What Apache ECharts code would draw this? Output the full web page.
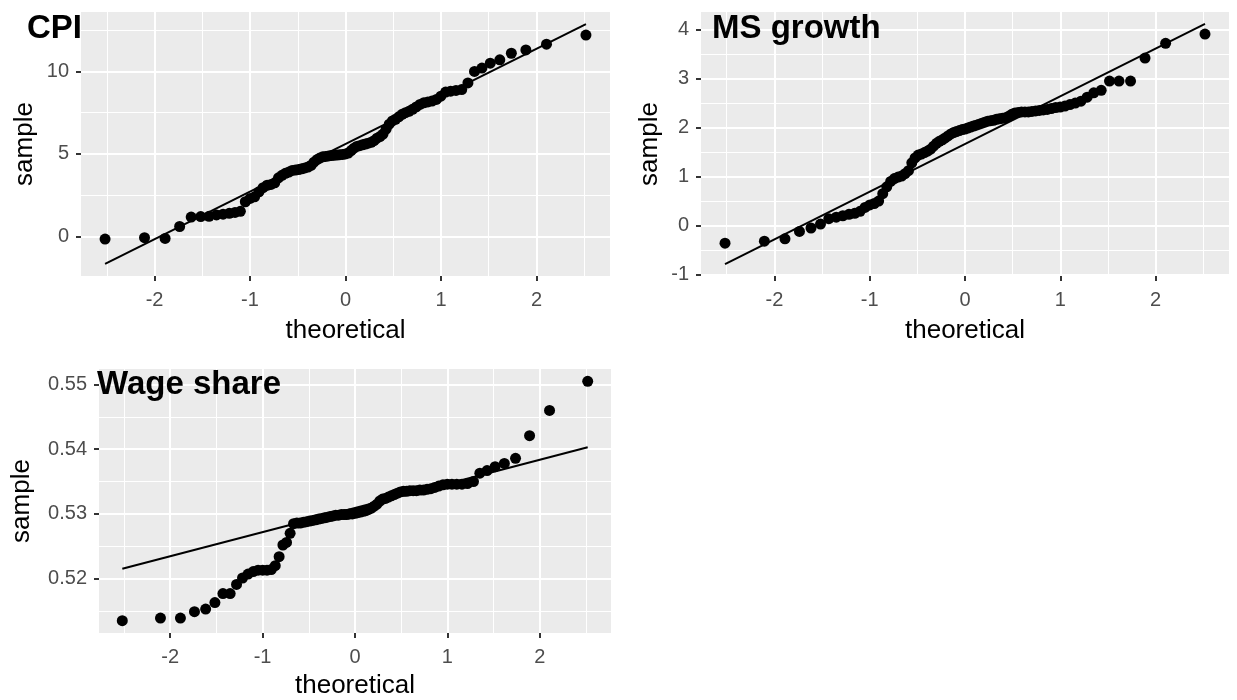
<!DOCTYPE html>
<html>
<head>
<meta charset="utf-8">
<script src="https://cdn.jsdelivr.net/npm/echarts@6/dist/echarts.min.js"></script>
<style>html,body{margin:0;padding:0;background:#fff}#c{width:1237px;height:700px}</style>
</head>
<body>
<div id="c"></div>
<script>
// theoretical normal quantiles (n = 85)
const theoretical = [-2.518,-2.105,-1.889,-1.737,-1.616,-1.516,-1.429,-1.351,-1.282,-1.217,-1.157,-1.101,-1.049,-0.999,-0.952,-0.906,-0.863,-0.821,-0.780,-0.741,-0.702,-0.665,-0.629,-0.593,-0.558,-0.524,-0.491,-0.458,-0.425,-0.393,-0.361,-0.330,-0.299,-0.269,-0.238,-0.208,-0.178,-0.148,-0.118,-0.089,-0.059,-0.029,0,0.029,0.059,0.089,0.118,0.148,0.178,0.208,0.238,0.269,0.299,0.330,0.361,0.393,0.425,0.458,0.491,0.524,0.558,0.593,0.629,0.665,0.702,0.741,0.780,0.821,0.863,0.906,0.952,0.999,1.049,1.101,1.157,1.217,1.282,1.351,1.429,1.516,1.616,1.737,1.889,2.105,2.518];

const cpiSample = [-0.16,-0.08,-0.12,0.6,1.17,1.2,1.22,1.3,1.35,1.4,1.45,1.52,2.1,2.3,2.4,2.7,2.95,3.1,3.15,3.25,3.55,3.7,3.82,3.9,4.0,4.02,4.05,4.1,4.15,4.2,4.3,4.5,4.65,4.75,4.82,4.85,4.88,4.9,4.92,4.93,4.95,4.97,5.0,5.05,5.2,5.35,5.45,5.5,5.55,5.6,5.65,5.7,5.8,5.95,6.05,6.2,6.5,6.8,7.0,7.1,7.25,7.4,7.5,7.58,7.7,7.85,8.0,8.1,8.15,8.2,8.3,8.5,8.75,8.8,8.85,8.9,9.3,10.0,10.2,10.5,10.7,11.1,11.3,11.65,12.2];

const msSample = [-0.36,-0.32,-0.27,-0.12,-0.05,0.03,0.14,0.17,0.2,0.23,0.25,0.29,0.37,0.42,0.45,0.5,0.65,0.79,0.9,0.96,0.99,1.01,1.06,1.12,1.28,1.38,1.44,1.46,1.49,1.52,1.56,1.62,1.68,1.72,1.75,1.79,1.83,1.87,1.9,1.92,1.94,1.96,1.97,1.99,2.01,2.03,2.05,2.07,2.09,2.11,2.13,2.14,2.15,2.17,2.18,2.19,2.2,2.23,2.27,2.3,2.31,2.32,2.32,2.32,2.33,2.34,2.35,2.36,2.37,2.39,2.41,2.42,2.44,2.47,2.5,2.54,2.62,2.71,2.76,2.95,2.95,2.95,3.42,3.72,3.91];

const wageSample = [0.5135,0.5139,0.5139,0.5149,0.5153,0.5163,0.5177,0.5177,0.5191,0.5201,0.5207,0.5211,0.5213,0.5213,0.5213,0.5214,0.5220,0.5234,0.5252,0.5256,0.5270,0.5285,0.5286,0.5286,0.5287,0.5288,0.5289,0.5290,0.5291,0.5292,0.5293,0.5294,0.5295,0.5296,0.5297,0.5298,0.5298,0.5299,0.5299,0.5299,0.5300,0.5300,0.5301,0.5302,0.5303,0.5304,0.5305,0.5307,0.5309,0.5312,0.5315,0.5320,0.5323,0.5324,0.5326,0.5328,0.5330,0.5332,0.5334,0.5335,0.5335,0.5336,0.5336,0.5336,0.5337,0.5337,0.5338,0.5339,0.5341,0.5343,0.5345,0.5346,0.5346,0.5346,0.5346,0.5347,0.5350,0.5363,0.5367,0.5373,0.5378,0.5386,0.5421,0.5460,0.5505];

// reference lines (theoretical, sample) endpoints
const cpiLine = [[-2.518,-1.67],[2.518,12.87]];
const msLine = [[-2.518,-0.787],[2.518,4.117]];
const wageLine = [[-2.518,0.52152],[2.518,0.5403]];

// tick labels
const xTicks = [-2,-1,0,1,2];
const cpiTicks = [0,5,10];
const msTicks = [-1,0,1,2,3,4];
const wageTicks = [0.52,0.53,0.54,0.55];
const panelTitles = ['CPI','MS growth','Wage share'];
const xName = 'theoretical';
const yName = 'sample';

const FONT = "'Liberation Sans', Arial, Helvetica, sans-serif";
const chart = echarts.init(document.getElementById('c'), null, {renderer:'canvas'});

function mkX(gi, gap){
  return {type:'value', gridIndex:gi, min:-2.77, max:2.77, minInterval:1, maxInterval:1,
    name:xName, nameLocation:'middle', nameGap:gap,
    nameTextStyle:{fontSize:26,color:'#000',fontFamily:FONT},
    axisLine:{show:false, onZero:false},
    axisTick:{show:true, customValues:xTicks, length:5, lineStyle:{color:'#333',width:2}},
    axisLabel:{customValues:xTicks, margin:14, fontSize:20, color:'#4d4d4d', fontFamily:FONT},
    splitLine:{show:true, lineStyle:{color:'#fff', width:2}},
    minorTick:{show:false, splitNumber:2},
    minorSplitLine:{show:true, lineStyle:{color:'#fff', width:1}}};
}
function mkY(gi, mn, mx, iv, ticks, gap){
  return {type:'value', gridIndex:gi, min:mn, max:mx, minInterval:iv, maxInterval:iv,
    name:yName, nameLocation:'middle', nameGap:gap, nameRotate:90,
    nameTextStyle:{fontSize:26,color:'#000',fontFamily:FONT},
    axisLine:{show:false, onZero:false},
    axisTick:{show:true, customValues:ticks, length:5, lineStyle:{color:'#333',width:2}},
    axisLabel:{customValues:ticks, margin:12, fontSize:20, color:'#4d4d4d', fontFamily:FONT},
    splitLine:{show:true, lineStyle:{color:'#fff', width:2}},
    minorTick:{show:false, splitNumber:2},
    minorSplitLine:{show:true, lineStyle:{color:'#fff', width:1}}};
}
function pts(s){ return theoretical.map((x,i)=>[x, s[i]]); }
function scat(gi, s){ return {type:'scatter', xAxisIndex:gi, yAxisIndex:gi, data:pts(s), symbolSize:11, itemStyle:{color:'#000', opacity:1}, silent:true, z:3}; }
function ln(gi, d){ return {type:'line', xAxisIndex:gi, yAxisIndex:gi, data:d, symbol:'none', lineStyle:{color:'#000', width:2}, silent:true, z:4}; }

const tStyle = {fontSize:33, fontWeight:'bold', color:'#000', fontFamily:FONT};
chart.setOption({
  animation:false,
  backgroundColor:'#fff',
  title:[
    {text:panelTitles[0], left:27, top:12, padding:0, textStyle:tStyle},
    {text:panelTitles[1], left:712, top:12, padding:0, textStyle:tStyle},
    {text:panelTitles[2], left:97, top:368, padding:0, textStyle:tStyle}
  ],
  grid:[
    {left:81, top:12, width:529, height:264, show:true, backgroundColor:'#EBEBEB', borderWidth:0},
    {left:701, top:12, width:528, height:264, show:true, backgroundColor:'#EBEBEB', borderWidth:0},
    {left:99, top:369, width:512, height:264, show:true, backgroundColor:'#EBEBEB', borderWidth:0}
  ],
  xAxis:[mkX(0,42), mkX(1,42), mkX(2,40)],
  yAxis:[mkY(0,-2.4,13.6,5,cpiTicks,43), mkY(1,-1.03,4.36,1,msTicks,38), mkY(2,0.5116,0.5524,0.01,wageTicks,64)],
  series:[scat(0,cpiSample), ln(0,cpiLine), scat(1,msSample), ln(1,msLine), scat(2,wageSample), ln(2,wageLine)]
});
</script>
</body>
</html>
